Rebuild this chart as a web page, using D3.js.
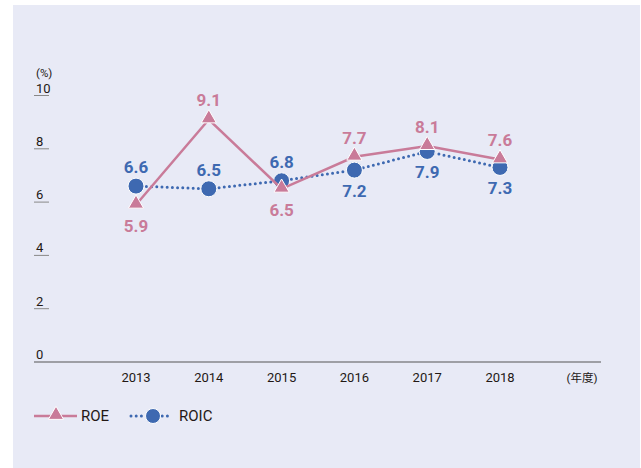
<!DOCTYPE html>
<html>
<head>
<meta charset="utf-8">
<script src="https://cdn.jsdelivr.net/npm/d3@7"></script>
<style>
  body { margin: 0; background: #fff; }
  text { font-family: Roboto, "Noto Sans CJK JP", sans-serif; }
</style>
</head>
<body>
<div id="chart"></div>
<script>
var years = ['2013', '2014', '2015', '2016', '2017', '2018'];
var roe = [5.9, 9.1, 6.5, 7.7, 8.1, 7.6];
var roic = [6.6, 6.5, 6.8, 7.2, 7.9, 7.3];
var yTicks = [0, 2, 4, 6, 8, 10];
// label placement: 1 = above marker, -1 = below
var roeSide = [-1, 1, -1, 1, 1, 1];
var roicSide = [1, 1, 1, -1, -1, -1];

var w = 641, h = 468;
var pink = '#c97b99', blue = '#3e69b1', ink = '#231815';

var svg = d3.select('#chart').append('svg')
  .attr('width', w)
  .attr('height', h);

svg.append('rect')
  .attr('x', 13).attr('y', 5)
  .attr('width', 627).attr('height', 463)
  .attr('fill', '#e8eaf6');

var x = d3.scalePoint()
  .domain(years)
  .range([136, 500]);

var y = d3.scaleLinear()
  .domain([0, 10])
  .range([362, 95.5]);

////////////////////////
// axes
////////////////////////
var yAxis = svg.append('g').attr('class', 'y-axis');
yTicks.forEach(function(t) {
  if (t > 0) {
    yAxis.append('line')
      .attr('x1', 34).attr('x2', 49)
      .attr('y1', y(t)).attr('y2', y(t))
      .attr('stroke', '#888').attr('stroke-width', 1);
  }
  yAxis.append('text')
    .attr('x', 36).attr('y', y(t) - 3)
    .attr('font-size', 13)
    .attr('fill', ink)
    .text(t);
});
svg.append('text')
  .attr('x', 36).attr('y', 77)
  .attr('font-size', 11.5)
  .attr('fill', ink)
  .text('(%)');

svg.append('line')
  .attr('x1', 34).attr('x2', 601)
  .attr('y1', y(0)).attr('y2', y(0))
  .attr('stroke', '#555').attr('stroke-width', 1.2);

svg.append('g').selectAll('text')
  .data(years)
  .enter().append('text')
  .attr('x', function(d) { return x(d); })
  .attr('y', 382)
  .attr('text-anchor', 'middle')
  .attr('font-size', 13)
  .attr('fill', ink)
  .text(function(d) { return d; });
svg.append('text')
  .attr('x', 582).attr('y', 382)
  .attr('text-anchor', 'middle')
  .attr('font-size', 11.5)
  .attr('fill', ink)
  .text('(年度)');

////////////////////////
// lines
////////////////////////
var line = d3.line()
  .x(function(d, i) { return x(years[i]); })
  .y(function(d) { return y(d); });

var tri = d3.symbol().type(d3.symbolTriangle).size(100);

svg.append('path')
  .datum(roic)
  .attr('d', line)
  .attr('fill', 'none')
  .attr('stroke', blue)
  .attr('stroke-width', 3)
  .attr('stroke-linecap', 'round')
  .attr('stroke-dasharray', '0,5.2');

svg.append('g').selectAll('circle')
  .data(roic)
  .enter().append('circle')
  .attr('cx', function(d, i) { return x(years[i]); })
  .attr('cy', function(d) { return y(d); })
  .attr('r', 8)
  .attr('fill', blue)
  .attr('stroke', '#fff')
  .attr('stroke-width', 1);

svg.append('path')
  .datum(roe)
  .attr('d', line)
  .attr('fill', 'none')
  .attr('stroke', pink)
  .attr('stroke-width', 2.5);

svg.append('g').selectAll('path')
  .data(roe)
  .enter().append('path')
  .attr('d', tri)
  .attr('transform', function(d, i) {
    return 'translate(' + x(years[i]) + ',' + (y(d) - 1) + ')';
  })
  .attr('fill', pink)
  .attr('stroke', '#fff')
  .attr('stroke-width', 1);

////////////////////////
// value labels
////////////////////////
function labels(data, side, color) {
  svg.append('g').selectAll('text')
    .data(data)
    .enter().append('text')
    .attr('x', function(d, i) { return x(years[i]); })
    .attr('y', function(d, i) {
      return side[i] > 0 ? y(d) - 13 : y(d) + 27;
    })
    .attr('text-anchor', 'middle')
    .attr('font-size', 17)
    .attr('font-weight', 'bold')
    .attr('fill', color)
    .text(function(d) { return d.toFixed(1); });
}
labels(roe, roeSide, pink);
labels(roic, roicSide, blue);

////////////////////////
// legend
////////////////////////
var lg = svg.append('g').attr('class', 'legend');
lg.append('line')
  .attr('x1', 34).attr('x2', 77).attr('y1', 416).attr('y2', 416)
  .attr('stroke', pink).attr('stroke-width', 2.5);
lg.append('path')
  .attr('d', tri)
  .attr('transform', 'translate(56,415)')
  .attr('fill', pink).attr('stroke', '#fff').attr('stroke-width', 1);
lg.append('text')
  .attr('x', 81).attr('y', 421)
  .attr('font-size', 15).attr('fill', ink)
  .text('ROE');

lg.append('line')
  .attr('x1', 131).attr('x2', 170).attr('y1', 416).attr('y2', 416)
  .attr('stroke', blue).attr('stroke-width', 3)
  .attr('stroke-linecap', 'round')
  .attr('stroke-dasharray', '0,5.2');
lg.append('circle')
  .attr('cx', 153).attr('cy', 416).attr('r', 7.5)
  .attr('fill', blue).attr('stroke', '#fff').attr('stroke-width', 1);
lg.append('text')
  .attr('x', 179).attr('y', 421)
  .attr('font-size', 15).attr('fill', ink)
  .text('ROIC');
</script>
</body>
</html>
